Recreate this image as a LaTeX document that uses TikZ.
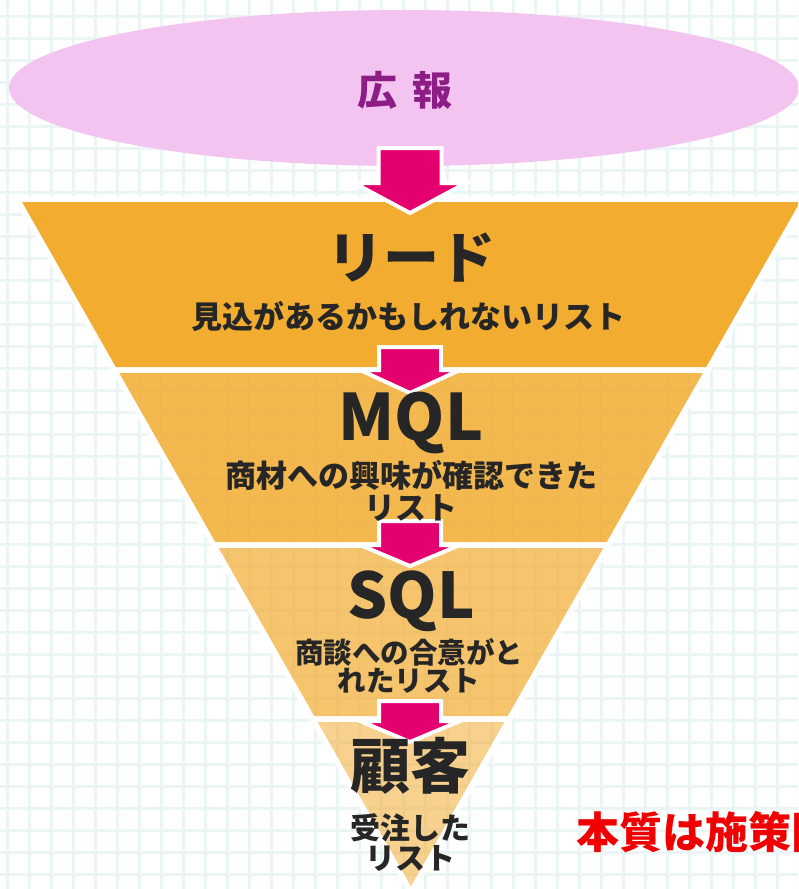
\documentclass[tikz,border=0pt]{standalone}
\usepackage{fontspec}
\usetikzlibrary{shapes.geometric}
\setmainfont{Noto Sans CJK JP}
\definecolor{gridc}{RGB}{236,245,245}
\definecolor{ellc}{RGB}{243,196,239}
\definecolor{purp}{RGB}{140,28,134}
\definecolor{funnel}{RGB}{242,172,48}
\definecolor{mag}{RGB}{228,0,111}
\definecolor{ink}{RGB}{38,38,38}
\definecolor{redt}{RGB}{240,0,0}
\begin{document}
\begin{tikzpicture}[x=1pt,y=-1pt,
  gridline/.style={draw=gridc,line width=3pt},
  band/.style={fill=funnel,draw=white,line width=5.5pt,line join=miter},
  arrowshape/.style={fill=mag,draw=white,line width=4pt,line join=miter},
  lbl/.style={inner sep=0pt,text=ink,font=\bfseries},
]
\useasboundingbox (0,0) rectangle (798,889);
\clip (0,0) rectangle (798,889);
\fill[white] (0,0) rectangle (798,889);
% grid
\foreach \gx in {7,29,...,799} \draw[gridline] (\gx,0) -- (\gx,889);
\foreach \gy in {16,38,...,889} \draw[gridline] (0,\gy) -- (798,\gy);
% ellipse
\node[ellipse,fill=ellc,minimum width=790pt,minimum height=156pt,inner sep=0pt] (pr) at (404,88) {};
\node[inner sep=0pt,text=purp,font=\bfseries\fontsize{40}{44}\selectfont] (prt) at (405,90) {広\hspace{0.4em}報};
% funnel bands
\coordinate (b1tl) at (17,199);   \coordinate (b1tr) at (805,199);
\coordinate (b1bl) at (114.2,370); \coordinate (b1br) at (707.8,370);
\coordinate (b2bl) at (213.7,545); \coordinate (b2br) at (608.3,545);
\coordinate (b3bl) at (312.6,719); \coordinate (b3br) at (509.4,719);
\coordinate (tip) at (411,892);
\path[band] (b1tl) -- (b1tr) -- (b1br) -- (b1bl) -- cycle;
\path[band,fill opacity=0.85] (b1bl) -- (b1br) -- (b2br) -- (b2bl) -- cycle;
\path[band,fill opacity=0.7] (b2bl) -- (b2br) -- (b3br) -- (b3bl) -- cycle;
\path[band,fill opacity=0.55] (b3bl) -- (b3br) -- (tip) -- cycle;
% arrows
\newcommand\fnlarrow[5]{%
  \path[arrowshape] ({410-#2},#1) -- ({410+#2},#1) -- ({410+#2},#3) -- ({410+#4},#3)
    -- (410,#5) -- ({410-#4},#3) -- ({410-#2},#3) -- cycle;}
\fnlarrow{148}{31.5}{183}{56}{213}
\fnlarrow{347}{31}{370}{50}{393}
\fnlarrow{521}{31}{545}{50}{566}
\fnlarrow{701}{31}{721}{50}{742}
% texts
\node[lbl,font=\bfseries\fontsize{56}{60}\selectfont] (lead) at (411,258) {リード};
\node[lbl,font=\bfseries\fontsize{31}{34}\selectfont] (leads) at (408,316) {見込があるかもしれないリスト};
\node[lbl,anchor=base,font=\bfseries\fontsize{64}{68}\selectfont] (mql) at (411,440) {MQL};
\node[lbl,align=center,font=\bfseries\fontsize{31}{32}\selectfont] (mqls) at (411,491) {商材への興味が確認できた\\リスト};
\node[lbl,anchor=base,font=\bfseries\fontsize{63}{66}\selectfont] (sql) at (411,618) {SQL};
\node[lbl,align=center,font=\bfseries\fontsize{28.5}{28}\selectfont] (sqls) at (409,666) {商談への合意がと\\れたリスト};
\node[lbl,font=\bfseries\fontsize{60}{64}\selectfont] (cust) at (410,766) {顧客};
\node[lbl,align=center,font=\bfseries\fontsize{30}{30}\selectfont] (custs) at (410,843) {受注した\\リスト};
\node[inner sep=0pt,anchor=west,text=redt,font=\bfseries\fontsize{43}{46}\selectfont] (note) at (576,832) {本質は施策間の連携};
\end{tikzpicture}
\end{document}
